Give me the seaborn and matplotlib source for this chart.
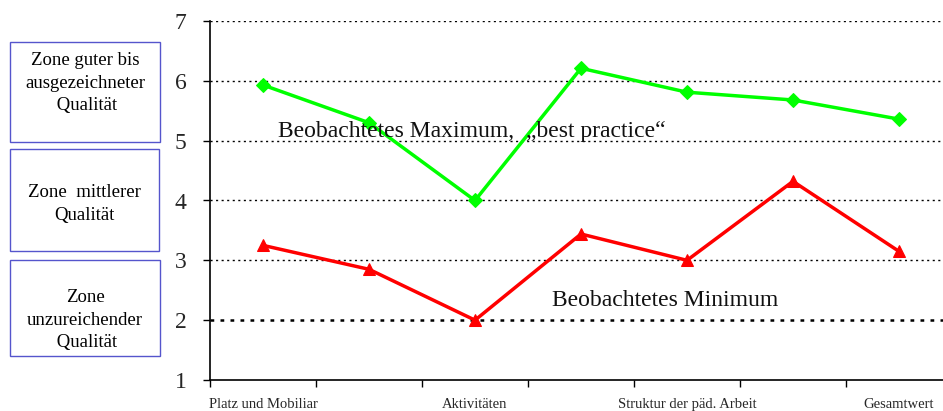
import matplotlib
matplotlib.use("Agg")
import matplotlib.pyplot as plt
import seaborn as sns
import pandas as pd
from matplotlib.patches import Rectangle

categories = ["Platz und Mobiliar", "", "Aktivitäten", "", "Struktur der päd. Arbeit", "", "Gesamtwert"]
maximum = [5.93, 5.30, 4.00, 6.21, 5.81, 5.68, 5.36]
minimum = [3.25, 2.85, 2.00, 3.44, 3.00, 4.32, 3.15]
y_ticks = [1, 2, 3, 4, 5, 6, 7]
zones = ["Zone guter bis\nausgezeichneter\n Qualität", "Zone  mittlerer\nQualität", "Zone\nunzureichender\n Qualität"]

sns.set_theme(style="white")
plt.rcParams["font.family"] = ["Liberation Serif", "DejaVu Serif"]

W, H = 943, 411
fig = plt.figure(figsize=(W / 100, H / 100), dpi=100)
x0, x1 = 210, 952
y_top, y_bot = 21, 380
ax = fig.add_axes([x0 / W, 1 - y_bot / H, (x1 - x0) / W, (y_bot - y_top) / H])

idx = list(range(len(categories)))
df = pd.DataFrame({"pos": idx * 2,
                   "value": maximum + minimum,
                   "series": ["max"] * len(idx) + ["min"] * len(idx)})

sns.lineplot(data=df[df.series == "max"], x="pos", y="value", ax=ax, color="#00ff00",
             marker="D", markersize=7, markeredgecolor="#00ff00", linewidth=2.5)
sns.lineplot(data=df[df.series == "min"], x="pos", y="value", ax=ax, color="#ff0000",
             marker="^", markersize=9, markeredgecolor="#ff0000", linewidth=2.5)

ax.set_xlim(-0.5, len(categories) - 0.5)
ax.set_ylim(1, 7)
for v in y_ticks[1:]:
    ax.axhline(v, color="black", linestyle=(0, (1.5, 2.5)), linewidth=1.0 if v != 2 else 1.8, zorder=0)

ax.set_yticks(y_ticks)
ax.set_yticklabels([str(t) for t in y_ticks], fontsize=17)
ax.tick_params(axis="y", which="major", length=5, width=1, color="black", direction="out", pad=12, left=True)

ax.set_xticks([i - 0.5 for i in idx] + [len(idx) - 0.5])
ax.set_xticklabels([])
ax.tick_params(axis="x", which="major", length=5, width=1, color="black", direction="out", bottom=True)
ax.set_xticks([i for i in idx if categories[i]], minor=True)
ax.set_xticklabels([c for c in categories if c], minor=True, fontsize=10.5)
ax.tick_params(axis="x", which="minor", length=0, pad=13)

ax.set_xlabel("")
ax.set_ylabel("")
for s in ["top", "right"]:
    ax.spines[s].set_visible(False)
for s in ["left", "bottom"]:
    ax.spines[s].set_color("black")
    ax.spines[s].set_linewidth(1.2)

ax.text(0.14, 5.15, "Beobachtetes Maximum,  „best practice“", fontsize=17, ha="left", va="center", color="#111111")
ax.text(2.73, 2.33, "Beobachtetes Minimum", fontsize=17, ha="left", va="center", color="#111111")

boxes = [(10, 42, 150, 100), (10, 149, 149, 102), (10, 260, 150, 96)]
text_centers = [83, 204, 320]
for (bx, by, bw, bh), ty, label in zip(boxes, text_centers, zones):
    fig.patches.append(Rectangle((bx / W, 1 - (by + bh) / H), bw / W, bh / H,
                                 transform=fig.transFigure, fill=False,
                                 edgecolor="#5555cc", linewidth=1.0))
    fig.text((bx + bw / 2) / W, 1 - ty / H, label, ha="center", va="center",
             fontsize=13.5, linespacing=1.4, color="black")

fig.savefig("out.png", dpi=100)
